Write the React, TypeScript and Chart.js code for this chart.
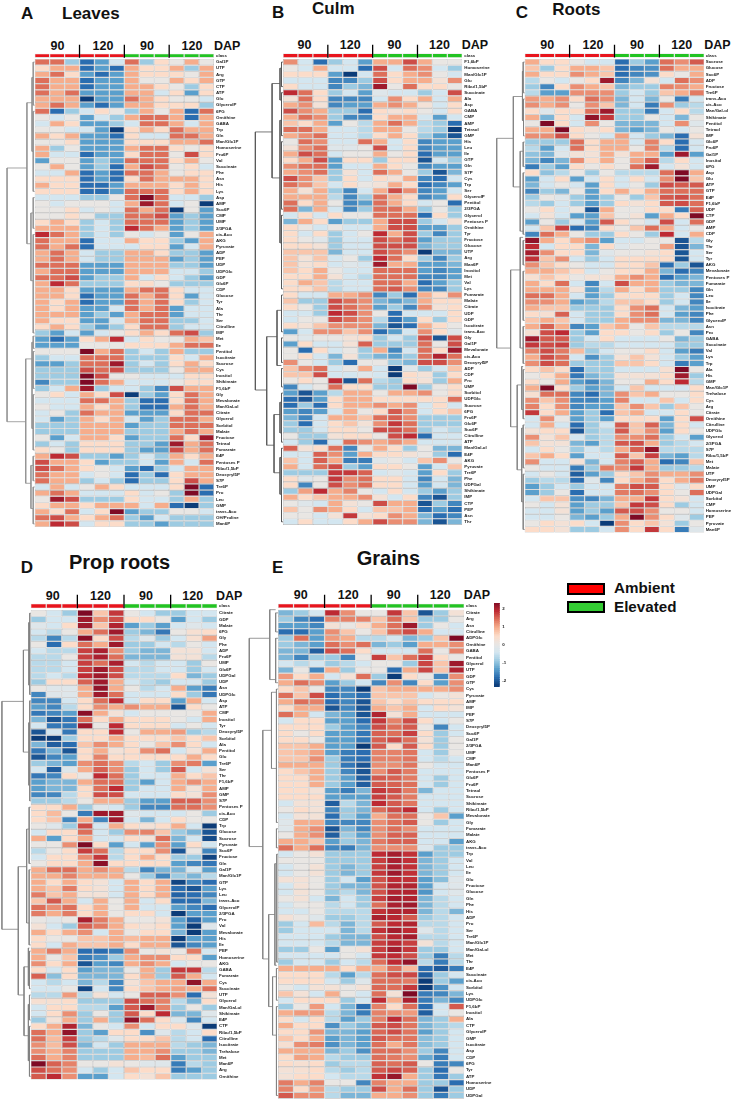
import React, { useEffect, useRef } from "react";
import { Chart, registerables } from "chart.js";

Chart.register(...registerables);

const FONT = '"Liberation Sans", Arial, sans-serif';
const LABEL_SIZE = 4.4;
const Z_STEP = 0.46;
const RAMP = ["#0c3c78", "#2a6db0", "#5a9fcc", "#9dcbe2", "#d3e6f0", "#e9e6e3", "#fcdcc9", "#f6ad8c", "#dd6f5a", "#bd2a33", "#7e0a25"];
const classColors = ["#e8141c", "#e8141c", "#e8141c", "#e8141c", "#e8141c", "#e8141c", "#22c322", "#22c322", "#22c322", "#22c322", "#22c322", "#22c322"];
const headerTicks = [3, 6, 9];
const colorbarTicks = [-2, -1, 0, 1, 2];

const labelsA = ["Gal1P", "UTP", "Arg", "GTP", "CTP", "ATP", "Glu", "GlycerolP", "6PG", "Ornithine", "GABA", "Trp", "Gln", "Man/Glc1P", "Homoserine", "Fru6P", "Val", "Succinate", "Phe", "Asn", "His", "Lys", "Asp", "AMP", "Suc6P", "CMP", "UMP", "2/3PGA", "cis-Aco", "AKG", "Pyruvate", "ADP", "PEP", "UDP", "UDPGlc", "GDP", "Glc6P", "CDP", "Glucose", "Tyr", "Ala", "Thr", "Ser", "Citrulline", "IMP", "Met", "Ile", "Pentitol", "Isocitrate", "Sucrose", "Cys", "Inositol", "Shikimate", "F1,6bP", "Gly", "Mevalonate", "Man/Gal-ol", "Citrate", "Glycerol", "Sorbitol", "Malate", "Fructose", "Tetraol", "Fumarate", "E4P", "Pentoses P", "Ribu/1,5bP", "DeoxyryI5P", "S7P", "Tre6P", "Pro", "Leu", "GMP", "trans-Aco", "OH/Proline", "Man6P"];
const valuesA = [
[3,3,-2,-4,-3,-1,3,-2,1,0,2,0],[1,2,2,-4,-3,-4,2,1,1,2,-2,2],[2,3,1,-3,-4,-3,2,1,1,1,0,2],[3,2,2,-4,-3,-3,2,0,0,2,1,2],[3,2,2,-4,-3,-3,2,2,1,0,-2,1],[3,2,3,-3,-3,-3,2,2,-1,1,-3,1],[2,2,2,-5,-3,-3,3,2,1,0,0,-1],[2,3,2,-3,-4,-3,2,2,1,1,1,-2],
[3,-4,-2,-1,1,0,-2,2,0,2,-4,3],[0,-1,0,-3,-1,-2,2,3,3,2,-4,2],[-1,2,1,-3,-3,-2,-1,3,3,2,-1,2],[0,0,-1,-1,-3,-5,1,2,1,3,2,2],[2,1,2,-3,-3,-4,1,-1,-1,3,3,2],[0,0,1,-3,-3,-3,1,1,1,2,2,3],[2,-2,0,-3,-3,-3,2,3,3,1,0,1],[2,-1,-1,-4,-3,-3,1,3,3,0,3.5,1],
[-3,0,0,-3,-2,-3,3,3,3,1,2,0],[0,2,0,-3,-2,-4,2,3.5,3,0,1,-1],[-1,-1,2,-4,-3,-4,3,3,2,0,1,1],[1,1,1,-4,-3,-4,1,3,2,2,2,1],[2,1,1,-4,-4,-3,2,2,2,1,2,1],[1,1,1,-4,-4,-3,3,3,3,1,2,1],[-1,-1,-1,-2,-2,0,3,5,3,-1,-1,-2],[0,-1,0,0,0,-1,2,4.5,3,-1,0,-5],
[0,0,1,-1,0,-1,3,2,3,-5,0,-3],[0,0,1,0,-2,-2,3,3,3.5,-3,-2,-3],[1,2,1,-2,-1,-2,3,3,3,-3,-2,-3],[2,2,2,-2,-1,-2,4,3,2,-3,-2,-3],[4,3,2,-2,-1,-2,0,-1,0,-3,0,2],[3,2,2,-4,-1,-1,2,1,1,-2,-3,2],[3,2,3,-4,-1,-1,-1,1,1,-3,-1,2],[2,3,2,-1,-2,-2,2,2,1,-2,-2,-3],
[2,3,2,-1,-2,-2,2,2,2,-3,-2,-3],[3,3,3,-3,-3,-3,2,2,2,-2,-2,-3],[2,3,3,-3,-3,-3,2,2,2,-1,-1,-2],[3,3,3.5,-3,-2,-2,2,-1,1,-1,-2,-3],[2,4,3,-2,-2,-2,1,1,0,-2,-2,-2],[2,2,1,-3,-3,-3,2,3,3,1,-1,-1],[2,2,1,-4,-3,-3,3,2,3,1,-3,-1],[2,1,2,-4,-3,-3,3,2,3,1,-2,-1],
[2,1,2,-3,-3,-1,3,2,3,-3,-1,-1],[2,2,2,-3,-2,-3,2,3,3,-3,-1,-1],[2,1,1,-3,-3,-1,2,3,3,-2,-2,-1],[1,2,1,-2,-3,-2,1,3,3,-2,-1,-1],[-2,-3,-1,-3,-1,0,1,2,1,3,3.5,-2],[-3,-4,-3,1,2,4,-1,1,0,0,2,1.5],[-3,-3,-3,0,0,0,1,1,1,2,3,3],[0,0,0,5,2,3,-2,-1,-2,2,-2,-2],
[-2,-1,-1,3,3,3,-2,-2,-2,1,-1,2],[-3,-3,-2,3,3,4.5,-2,-1,-2,1,2,1],[-2,-2,-2,3.5,3,3.5,-2,-2,-2,0,2,2],[-2,-2,-2,5,3.5,0,0,-1,-1,-1,1,1],[-3.5,-2,-2,5,3,2,-1,-1,-1,0,1,1],[-2,-1,2,4.5,-2,-1,-1,-2,-3.5,3.5,2,2],[0,1,-1,2,1,3.5,-5,-2,-3,1,3,2],[-1,-1,-1,3,3,2,-2,-4,-4,1,3,2],
[0,-1,-1,2,1,2,-2,-4,-4,2,3,2],[-1,0,-2,3,2,2,-3,-3,-3,1,3,3],[-1,-3,-2,2,1,2,-1,-3,-2,3,3,2],[-2,-2,-2,2,2,2,-3,-2,-2,3,3,3],[-2,-2,-2,2,2,2,-2,-2,-2,2,3,2],[0,-3,-1,2,2,1,-3,-2,-2,3,1,4.5],[-2,-1,-2,1,1,1,-2,-2,-3,4.5,2,3],[1,0,-2,1,1,1,-2,-3,-3,3.5,2,3],
[2,4,3.5,-2,-2,-3,-2,-1,-2,2,1,2],[3.5,2,2,1,-3,-2,-2,-1,-3,2,-1,3],[3.5,3,2,1,0,-1,-3,-4,-2,-1,2,2],[3,2,2,-1,0,-1,-4,-2,-4,1,2,2],[3,2,2,-2,-1,-2,-4,-2,-2,1,3.5,2],[-1,2,-1,0,2,1,-1,-1,-1,1,5,-4],[2,3,2,-1,-1,-1,1,-1,0,-2,5,-4],[0,4.5,3.5,-2,-2,-2,1,-1,-1,-2,2,-2],
[1,2,2,1,2,2,2,-1,2,-4,-5,-2],[2,1,3,-1,1,5,-3,-2,-2,0,0,-1],[3,3.5,2,1,2,3,-2,-3,-1,-2,-2,-2],[2,4,3.5,-1,1,1,-2,-2,-3,-2,-2,-2],
];

const labelsB = ["F1,6bP", "Homoserine", "Man/Glc1P", "Glu", "Ribu/1,5bP", "Succinate", "Ala", "Asp", "GABA", "CMP", "AMP", "Tetraol", "GMP", "His", "Leu", "Ile", "GTP", "Gln", "S7P", "Cys", "Trp", "Ser", "GlycerolP", "Pentitol", "2/3PGA", "Glycerol", "Pentoses P", "Ornithine", "Tyr", "Fructose", "Glucose", "UTP", "Arg", "Man6P", "Inositol", "Met", "Val", "Lys", "Fumarate", "Malate", "Citrate", "UDP", "GDP", "Isocitrate", "trans-Aco", "Gly", "Gal1P", "Mevalonate", "cis-Aco", "DeoxyryI5P", "ADP", "CDP", "Pro", "UMP", "Sorbitol", "UDPGlc", "Sucrose", "6PG", "Fru6P", "Glc6P", "Suc6P", "Citrulline", "ATP", "Man/Gal-ol", "E4P", "AKG", "Pyruvate", "Tre6P", "Phe", "UDPGal", "Shikimate", "IMP", "CTP", "PEP", "Asn", "Thr"];
const valuesB = [
[2.5,-1,-4,-2,-1,-3,2,2,3.5,2,0,0],[0,-1,2,-1,-1,-4,3.5,-1,3,2.5,-1,-2],[1,1,1,-3,-5,-1,3,1,2,2.5,0,-1],[-1,-1,-1,-3.5,-3.5,-2,3.5,1,2,2,0.5,2.5],[1,-1,-1,-3.5,-2,-2.5,4.5,0,3,1,1,0],[4,3,1,-2,-1,-3,-0.5,-1,-1,-2,-1,3.5],[0.5,3,1,-3.5,-3.5,-3.5,-1,2.5,1,2,-1,2],[2,2.5,0.5,-3.5,-3,-3,2,2.5,2,0.5,-1,1],
[3.5,2.5,2,-2,-2,-4,1,0.5,1,0,-1,1],[2,3,2.5,-2,-3.5,-3.5,1,2,2,-1,-3,-1],[1.5,1,2,-3,0,-1.5,2,3,2,-1.5,-2,-4],[3,3,2,-1,-1,-1.5,2,2,0,-1.5,-2,-5],[2,2.5,3,-1,-1,-1.5,1,2,1,-2,-3,-4.5],[0,3,2.5,-1,-1,3,2,-1,1,-3.5,-3,-3],[0.5,2.5,3,-0.5,-0.5,0,3.5,-1,1,-3.5,-3,-3],[2,3.5,3,-1,0,0,2,0,1,-4,-3,-3],
[1,2,3.5,-3,1,1,-2,1,1,-4.5,-1,-2],[2.5,3,3,-3,-1,-1,2,1,0,-3.5,-3,-3],[2,2.5,3,-2,0.5,-1,3,2,0,-2,-4.5,-2.5],[3.5,2.5,1.5,-2,1,-1,1,0.5,2,-3.5,-4,-1],[3,2.5,1.5,-1,1,0,0.5,2,1,-4,-3.5,-3],[2,0.5,2,-2,-3.5,-1,2,3.5,2.5,-3.5,-3,-1],[2,2,2,-1.5,-3.5,-2,3,2,1,-3.5,-3,1],[3,1,2,0,-3.5,-3,3,2,1,-1,0,-4],
[3,-2.5,2,-1,-3.5,-2,3,3,2,-2,0,-2],[-1,1,-1,1,0,0,3,3,3,-4,1,-2],[-2.5,2,1,-3,-2,-2,2,3.5,3.5,-2,-1,0.5],[1,0,-1,0,-1,-1,2,3.5,3.5,-3,-3,-2],[1,-1,1,-2,-1,0,4,2,3.5,-2,-3.5,-2],[1,0,-0.5,-2,-1,-1,3.5,3,3.5,-3,-2,-2],[1,1,0.5,-2,-1,-1,3.5,3.5,3.5,-2.5,-2,-2],[1.5,1.5,1.5,-2.5,-1,-1,3.5,3,2.5,-5,-2.5,-2.5],
[1.5,0.5,1.5,-1,0,-2,4,3,1,-2,-3.5,-2],[1.5,0.5,1,-1,-0.5,-1,4.5,2,2,-3,-3,-2.5],[1.5,1,2,0,-1,-1,3,3,3,-3,-3.5,-3],[1,1,2,0.5,-1,-1.5,3,3,3,-3.5,-3.5,-3],[1,2,1.5,-1.5,-1,-1,3,3,2,-4,-3,-2],[1,1,1.5,-1.5,-1,-1,3,3.3,2.5,-3.5,-3.5,-2],[1,-1,-1,2,2,2.5,-3.5,-2,-4,2,1,2.5],[1.5,-2,-2,3.5,3,2.5,-2.5,-3,-2.5,2,1,1],
[1,0,-2,3.5,3,2.5,-3,-2,-3.5,2.5,0.5,1],[-1,-1,-2,4,3.5,2.5,0,-4,-1,-1,-1,1],[-1,0,0,3.5,3,2.5,-1.5,-4,-3,1,-2,1],[1,0.5,1.5,2.5,2.5,2.5,-2.5,-4.5,-4,2,1,0],[-3,-1,2.5,2.5,1.5,2.5,-4,-3,-1,2.5,1,-0.5],[0,-0.5,0,0,0.5,1,-2,-1,-2,3.5,-4.5,3.5],[-3,1,-1,-1,0.5,3.2,-2,-2,-2,3,0,3.5],[0,-4,1,-1,0,-2,2,-3.5,-1,3,1,4.5],
[0,1,-1,-2.5,0.5,-2,-2.5,-3,-2,3,4.2,3],[2.5,0,-1,-2,-4,0,0,-2,-2.5,3.5,3.5,2.5],[1.5,2.5,3,-1,0,2,-1,-5,-0.5,-2,-1,1.5],[1.5,1.5,3.5,-1,-1,-0.5,-1,-5.5,1,0.5,-2,1],[0,1,0,4,-4.5,3,-1.5,-2,1,0.5,-2,2],[-3.5,-1,0,3,1,1,-2,-2,5,-2,0,1],[-3,-4.5,-3,-1.5,2,2,0,2,2,2.5,0,1],[-4,-4.5,-3,1,2,2,1,1,1,1,1,3],
[-4,-2,-4,1,2,2,2.5,2,2.5,-1,1,-1],[-3,-3.5,-3,-1,2,0,1,3.3,2.5,-1,1,1.5],[-2.5,-3.5,-1,2,2,1.5,3,3.2,2.5,-2,-2,-2],[-2,-4,-1,1,1.5,0.5,2.5,3.8,3,-2,-2,-2],[-2,-2,-1,1,1,0,3.5,3.5,3,-2,-1,-1.5],[0,-2,-2,0.5,1,1,0,3.5,4,-4,-1,-1],[-1,-2,-4,-1,3,2.5,2,2.5,2,-1,-1,-1],[3.2,0.5,1,3,-3.5,0,2,1,-2,0,-2.5,-2.5],
[-1,-1,3.2,2.5,-3,2,1,1,0.5,0,-2,-4],[1.5,-1,3.2,2,-3.7,-3.7,-0.5,0,-1,1.5,2.5,0],[2,-1,3,3.5,-2,-3,1,1,0,-3,-1,1.5],[-2,-2,-2,3.8,3.8,3.2,-1,-0.5,-1,-3,1,-2],[1,-0.5,0,3.8,2.5,3,1,1,-1,-3.5,-1,-2.5],[1,-3.5,0,3.5,2.5,3,1,1,-1,-3,-1,-2.5],[-2,2.2,4,2,2.7,0,-1,1,-1,-2,-3,-2],[2,1,1.5,2,2,2.5,0.5,-1,1,-3.5,-4.5,-2],
[0,-0.5,-1,2,0.5,0,3.5,2,2,-4.5,-2,-3.5],[1.5,0,2.5,2,1,-1,1.5,1.5,2,-4,-3,-4],[0,0,-1,0.5,3.8,0.5,1,2.5,2,-2.5,-4,-3.5],[-1,1,-1,-1,1,2,3.5,2.5,2.5,-2.5,-4.5,-2.5],
];

const labelsC = ["Sucrose", "Glucose", "Suc6P", "ADP", "Fructose", "Tre6P", "trans-Aco", "cis-Aco", "Man/Gal-ol", "Shikimate", "Pentitol", "Tetraol", "IMP", "Glc6P", "Fru6P", "Gal1P", "Inositol", "6PG", "Asp", "Glu", "ATP", "GTP", "E4P", "F1,6bP", "UDP", "CTP", "GDP", "AMP", "CDP", "Gly", "Thr", "Ser", "Tyr", "AKG", "Mevalonate", "Pentoses P", "Fumarate", "Gln", "Leu", "Ile", "Isocitrate", "Phe", "GlycerolP", "Asn", "Pro", "GABA", "Succinate", "Val", "Lys", "Trp", "Ala", "His", "GMP", "Man/Glc1P", "Trehalose", "Cys", "Arg", "Citrate", "Ornithine", "Citrulline", "UDPGlc", "Glycerol", "2/3PGA", "S7P", "Ribu/1,5bP", "Met", "Malate", "UTP", "DeoxyryI5P", "UMP", "UDPGal", "Sorbitol", "CMP", "Homoserine", "PEP", "Pyruvate", "Man6P"];
const valuesC = [
[2,1,1,0,-1,-1,-4,-2,-3,3,2.5,3.3],[1.5,-2,1,2,2,1.5,-4,-3.5,-3.3,3,2,2],[2,1,1,2.5,2,1.5,-4,-3.5,-3.3,1,0,2],[-1.5,0,-1,0,1,4.5,-3.5,-2.5,0.5,-1,3,2.5],[-2,-3.5,1,2.5,2,1.5,-2.5,-2,-2,2.7,2.5,2],[-1.5,-3,-3,2.5,2.5,2.5,-2,-1,-2,1.5,2,2.8],[2.3,2,2.5,1,3,2.5,-2.5,-1,-2.5,0,-3.7,-1],[2.5,2,2.5,0,2.5,1.5,-2.5,-1,-3.7,2.5,-2,-1.5],
[1,-0.5,1,1,3,4.5,-2,-2,-3.7,-1,1,-1.5],[2,-2.5,1,-1,4.7,3.8,-2,-2,0,-1,-2.5,0],[0,5,1,-1,2.5,0,-2.5,-2.5,-2.5,-1,2.5,-0.5],[2,2,5,1,0.5,1,-2.5,-3,-2.5,0,-1,0],[2.5,2.5,3.5,1,0,-1,2.2,-1,-2,-2.5,-4,0.5],[-2,-2,-2,3,1,2,2,-1,2.7,1,-4,-1],[-1.5,-3,-1,3,1,2,2,0,2.7,-1.5,-4,-1],[-2.2,-2.5,-0.5,0.5,0.5,2,0.5,2,2,-3,4.5,-3],
[-2.5,-3.5,-2.5,2.5,1,2,0,2.2,3.2,-1.5,1,-1],[-3.7,-2,-3,1,0,1,0,3,4.5,-1,0.5,-1],[1,-2.2,-1.5,0,-2,0,-1.5,-1.5,-1.5,3,5,2],[-3,-1,1,-3,-1,1,-1,1,-1,2.5,5,1.5],[-2.5,-1,0,-1,-3,1,-1,0,-2,3.5,3.3,3.3],[-3.5,-2,-2.5,0,-3,1,2,1,2,3,3,3],[-2,0,-0.5,-2,-3,-2,0,-2,1.5,3.3,3.5,3],[-1.5,-2,-1,-2,-3,-2,1,0.5,1,3.3,3.5,3],
[0,1,-1,0,-4.5,2,0,0,1,1,-3.7,3.2],[-1,0.5,-1,-3,-3,1.5,0,0.5,-3,2,1,5],[-3,0,-2,-1,-3,3.3,1,0,-1,3.5,-1,3],[-1,1.5,3.7,-4,-3.5,1,0,1.5,3,2,-1,0],[-3.5,3,2,0,-2,-2,1,0,-2,4,-1,2],[4.7,2,1,2,2.5,-3,-1,-1,0,0,-4.5,-1.5],[4,-1,1,1,-2.5,1,-0.5,0,0,2.2,-4.5,-2.5],[4.4,2.5,1,1,-2.5,-0.5,0,0,0.5,1,-4.5,-1],
[3.9,1.5,2.5,-1,-2,-1,1,1,1,1,-4.5,-1],[2.5,1.5,1,0,-1,-1,1,1,1.5,-4,-2,-4.5],[2,2,1.5,1,-1,0,1,1,2,-2.5,-4,-3.5],[0.7,1.5,1,0,0.5,0.5,2,2.5,2,-4,-3,-2.5],[2,1,3,-1,-3.5,-1,3.5,2,2,-2,-2.5,-2.5],[2,2,2,0.5,-3,-1.5,2,1,2,-2,-2,-3.5],[3,3,2,-1,-3,-2,1,1,1,-2,-1,-3.5],[2.5,2.5,2,-3,-2.5,-1.5,1.5,1.5,1,-2,-1,-3.5],
[2,1.5,1.5,-2,-2,-2,1,2.5,3,-1,-2.5,-3],[1,0.7,3.2,-1,-2,-2,1,2.5,3,-1,-3,-3.5],[1.5,2,1.5,-1,-2,-2,2,2.5,2.5,-2.5,-2.5,-3.5],[2,3.2,2,-3.5,-3,1.5,2,0,1.5,-1.5,-1.5,-1.5],[0.7,3.5,4,-2,-3,1,1,0,1,-2,0,-3.5],[4.5,3.3,3.3,-2,-1,1,-1,-1,-1,0,-2.5,-2],[3.8,3.5,3.7,-2,-1.5,-1.5,-1,-1,-1,-1,-2,-2],[2.7,3.5,2.8,1.7,-2,-1,0,0,1,-1,-3,-3.7],
[2,3.5,3,-1,-3.3,-2,0.5,1.5,0.5,-1,-2,-3],[2.5,3.5,3,-2,-2,-2,1.5,1.5,1,-1,-3.7,-3],[1,1.5,1,-4,-2,-2,-1,-1,-1,0.7,5,0],[0,1,2,-3.8,-2.5,-2,0.5,0.5,0.5,1,4.5,-2],[1,0,2,-3,-3.5,-2.5,0,0,2,1,4,-1.5],[2,5,1,-2,-3,-2.5,-1,1.5,-1,-1,-1,1],[0.7,3,3,-3.5,-4,-2.5,2.5,1.5,2,0,0,1],[2.5,1.5,2.5,-3.5,-3.5,-3,2.7,-1,-1,1.5,-1,1],
[2.7,1,2.5,-3.5,-3,-3,1.5,2.5,1.5,-2,1.5,0],[3.8,1,2,-3,-2,-4,1.5,2,-1,-1,1,0],[-1,2.5,0,-3,-2,-3,1,1,1,-3,1,3.5],[-1,2,-1,-4,-2,-1,3.3,1.5,3.2,-2.5,1,-1],[0.5,1,1,-4.5,-2,-1.5,3.3,1.5,2.5,-3,1,0],[2.5,0.5,1.5,-1,-2,-1.5,2.5,2.5,3,-2,-1,-3],[1.5,0.5,0.5,-2.5,-3,-1.5,3.3,3.5,2,-2,-1.5,-1],[-1,1,0,-2,-1,-1.5,2,3.2,4.7,-1.5,-1.5,-1.5],
[1.5,2,1,-3,-1,-1,3.3,1.5,3.7,-2.5,-3,-1.5],[2.5,-1,-1,0.5,-2.5,-1,2.7,3.2,2,-4,-3.5,1.5],[0,-1,-1,-3.7,-2,2.8,2.5,3.8,2,-2,-2,-1.5],[-1,0,-1,-4.3,-3,-2,1,1.5,2.5,2,2,2.5],[-2,-1.5,-1.5,-4,-0.5,-3.5,1,2,2.8,1,2,2.8],[-3,-2,-1,-2,-1,-1,2.8,3.5,3.3,1,-0.5,1],[-3,-2,0,-4,-1,-1,2.8,3,2.5,1,0,3],[-1,1.5,1.5,-3.3,-3.5,-2.5,2,2,3.8,1,0.5,-1],
[0,-1,0.5,-3,-2,-2,1.5,3.8,3.5,1,-2,-1],[-1,-1,0.5,-3,-2,-3,3.3,3.5,2.5,0,0,-1],[-1,-1,0,-2.5,-3,-2,2,5,2.5,1,-0.5,-2],[0,1,0.5,1,-1,-5.5,2.5,1,1.5,0.5,-2,0],[1,1,0.5,-2,-2,-1,2.5,1,3.8,1,-3.7,-0.5],
];

const labelsD = ["Citrate", "GDP", "Malate", "6PG", "Gly", "Phe", "ADP", "Fru6P", "UMP", "Glc6P", "UDPGal", "UDP", "Asn", "UDPGlc", "Asp", "ATP", "CMP", "Inositol", "Tyr", "DeoxyryI5P", "Sorbitol", "Ala", "Pentitol", "Glu", "Tre6P", "Ser", "Thr", "F1,6bP", "AMP", "GMP", "S7P", "Pentoses P", "cis-Aco", "CDP", "Trp", "Glucose", "Sucrose", "Pyruvate", "Suc6P", "Fructose", "Gln", "Gal1P", "Man/Glc1P", "GTP", "Lys", "Leu", "trans-Aco", "GlycerolP", "2/3PGA", "Pro", "Val", "Mevalonate", "His", "Ile", "PEP", "Homoserine", "AKG", "GABA", "Fumarate", "Cys", "Succinate", "UTP", "Glycerol", "Man/Gal-ol", "Shikimate", "E4P", "CTP", "Ribu/1,5bP", "Citrulline", "Isocitrate", "Trehalose", "Met", "Man6P", "Arg", "Ornithine"];
const valuesD = [
[0,-1,-2,5.5,1.5,3.8,0,-1,-2,-2,-1,-1],[-2,-1,-1,4.5,2.5,3.5,1,1,0,-3,-1,-2],[-0.5,-1,1,4.5,1.5,4.2,-3,-2,-3,-1,-0.5,-1],[-1,-1.5,0,2,3,4.5,-2,-2.5,-3.8,0,0.7,1],[-1.5,-3.5,-1.5,4.8,1,3.5,-1.5,-0.5,-2,-1,0.7,2.2],[0,-4,1,3,2,4.5,-2,-2,-1,-1.5,0,-1],[-1,-1.5,-1.5,3.7,4.3,2.5,-2,-2.5,-2.5,0.5,0.5,-1],[-1.5,-1.5,0,3.7,4.3,3,-2.5,-2.5,-2.5,0.5,0.5,-1.5],
[-1.5,-1.5,-1,3.7,3,4.3,-1,-1.5,-1,-1,-2,0],[-1.5,-1.5,-1,3.7,4.5,3.5,-1.5,-1.5,-1,-1,-2,-1],[-1.5,-1,-1.5,4,4.5,3.5,-1.5,-1.5,-1.5,1,-2.5,-2],[-2,1,1,3.2,4.5,2,-1,-1.5,-2,-1,-1,-2],[0,-0.5,-0.5,2,4.7,2,0,-1.5,-1,2,-3,-3.7],[-3.5,-0.5,-0.5,2,4.5,3,-1,-1,-1,1,-2,-3.8],[-3.5,-3.5,-1,1,3,4,-1,1,1,-3,2,-1],[-3,-3.5,-1.5,1,2.5,2,2.5,2,2,-4.5,1,0],
[-3.8,-3.5,-3,4.8,2,0.5,-1,0,0,0,0,2],[-2.5,-4.5,-3.8,3,1,2,1,1,1,0,-1,2],[-1,-3.8,-3.8,4.5,0,4,1,1,1,-1,0,-1],[-4.5,-1,-3.8,1,1,4,0,2,2,2.3,-2,-1.5],[-5,-5,-2,1,1,2,1,1,1,1.5,1,1.5],[-2.5,-4.3,-4,1.5,2.5,2,1,0,1.5,2.5,1,-1],[-3.8,-2.5,-4.5,1,2,0.5,1,2.5,3,-1,0.5,2],[-4.5,-3.5,-3,1,2.7,1,1,1,1,1,2,1],
[-2,-2.5,-3,2.5,3,2.5,-1.5,-1,-2,2.5,2.8,-3],[-1,-4.3,-0.5,2,3.2,2.5,-2,-1,-2,3.3,-1,0.5],[-3.8,-3.5,1,0,4,3,-2,-1,-1,2,1,1.5],[-3,-2.5,-2.5,2,3,3,-2,-3,-1,2,2.5,2],[-3,-2.5,-2.5,1,3,4,-2,-1,-1,2,0.5,2],[-3.5,-3.5,-1.5,1,3.5,3.5,-1,-1,-1,1,0.5,2.5],[-2,-2,-1.5,0,2,2,-2,-3,-3,3.2,3.2,2.5],[1,1,2,-2,-0.5,-1,-2,-3.5,-3.5,3,3,2.5],
[1,1.7,0,-3.7,4.5,4.5,-0.5,-1,-1,-1,0,-2],[1,1.5,-3.5,2,-3.5,4.5,-1,-2.5,-1,1,0,0],[0,-0.5,-2,3.5,-1,2,1,0.5,1,2,-1,-5.5],[-1,1,1,3,-1,-2,2.5,2.7,1.5,-2,-2.5,-4.5],[2,-3,1,2,-1,-1,1,0.5,3,-2.5,-1,-4.7],[0,0,2.5,5,1,-3,-1,-3,2.5,-3,1,-1],[-1.5,0,1,3.7,3,-1.5,1,1,2.5,-4.5,0,-3.5],[-1,1,1,2.5,3.8,-1.5,1,2,1,-2,-2,-4.8],
[0,1,1,2,4.8,1,1,1,1,-3,-3.5,-3.8],[2,3,3,2,2.5,2,-1.5,-3.5,-2.5,-2.5,-1,-3],[2,2,2.7,2,2,2,0,-2,-3.5,-2,-2.5,-1.5],[2,1,2,1,0.5,-1,2,1,2,-4.8,-3.5,-4],[2,1.5,2.8,1,0.5,-1,2,1,2,-4,-4.5,-3],[2.8,1.5,2,0.5,0.5,-1,2,1,2,-4.2,-4,-3.5],[1.5,3.3,2,-1,2,0,2,-1,1,-4,-4,-2.5],[3,2.5,3,1,2,0,2,-1,-1,-3,-3.5,-4],
[2.8,2,2.8,1,2,0,1,1,-1,-5,-3,-3],[0,-0.5,0,4.3,2.8,2,0,0,0.5,-3,-4.2,-3],[0.5,-1,-2,3.2,2.8,2,1,0.5,1,-3,-5,-0.5],[2,1,2,2.5,-1,2,0,1,1,-2.5,-5,-3],[1,0,0,1.5,1.5,2,1.7,2,2,-5.5,-3,-3],[1,-1,2,1.5,1.5,2,1,2,2,-4.5,-3.5,-3],[2,2.8,2,-4,-4,-3.7,2.5,0,0.5,0,2.8,-1],[2,0,1.5,-3.7,-3.3,-2,2,2.5,2.5,1,1,-3],
[2.5,1,2,-4.5,-3,-3.5,2,2.5,2,-1,0,0],[1,-1,1,-3,-2.5,-2.5,0,2,-2,3.8,3.8,-1.5],[3.2,-2.3,1,-2.5,-2.5,-2.5,1,2,-2,3.3,2,-1],[-1,-1.5,-1,-2.5,-1.5,-3.5,0.5,1.5,2,2,4.7,2],[-1,-1,0,-4.8,-1,-3.5,1,1.5,2,2.2,2,3],[-1.5,-1.5,2.3,-1.5,0.5,-1,0,3.2,3.2,2.5,-4,0.5],[0.7,0.7,1,-2,-2,-2,3.5,3,2.7,-1.5,-2.5,1],[-1,1,1,-1.5,-1.5,-3,3.3,4.5,2.7,-2,0,-2],
[-1,1,2.5,-2,0,-2,3.3,1,4,-2.5,-2.5,-0.5],[-2,0.5,2,-2,2,-2,4.7,3,1,-0.7,-3.5,-1],[1,2,4.2,-2.5,0,-1,2.5,-1,1,1,-0.5,-5],[3,2,4.7,-2,-3,1,1,-3.3,-0.5,-1.5,-1,1],[3,1.7,3.7,-2,-1.5,-0.5,1,1,1.5,-1.5,-1,-4],[2.5,1.7,3.5,-2.5,-1,-2,2,2,2,-1.5,-2,-2.5],[2.5,2,2.7,-2,-2,-2,2,2,2.5,-2,-2,-2.5],[3,2,2.7,-2,-2,-2,2,1.7,3,-3,-2,-2],
[5,3.2,2.7,0,0,0.5,0,-0.5,-0.5,-3.7,-1.5,-2],[3.5,3,2.5,-1,-2,-1,1.5,1,1,-3.7,-3,-2],[3.3,4,2.5,-3,-3,-1,1,0.5,1.5,-2,-2,-2],
];

const labelsE = ["Citrate", "Arg", "Asn", "Citrulline", "ADPGlc", "Ornithine", "GABA", "Pentitol", "Glycerol", "UTP", "GDP", "GTP", "Cys", "Pyruvate", "AMP", "IMP", "PEP", "S7P", "DeoxyryI5P", "Suc6P", "Gal1P", "2/3PGA", "UMP", "CMP", "Man6P", "Pentoses P", "Glc6P", "Fru6P", "Tetraol", "Sucrose", "Shikimate", "Ribu/1,5bP", "Mevalonate", "Gly", "Fumarate", "Malate", "AKG", "trans-Aco", "Trp", "Val", "Leu", "Ile", "Glu", "Fructose", "Glucose", "Gln", "Phe", "His", "ADP", "Pro", "Ser", "Tre6P", "Man/Glc1P", "Man/Gal-ol", "Met", "Thr", "E4P", "Succinate", "cis-Aco", "Sorbitol", "Lys", "UDPGlc", "F1,6bP", "Inositol", "Ala", "CTP", "GlycerolP", "GMP", "Isocitrate", "Asp", "CDP", "6PG", "Tyr", "ATP", "Homoserine", "UDP", "UDPGal"];
const valuesE = [
[-2.5,-2,-1,4,2.5,0,0,3.8,1.5,-4.5,-2,0.5],[-2,-3.5,-4,2.7,2.7,2.7,1.5,3,1.5,-2,-2,0],[-3,-3,-3.5,0.5,0,1,2,3,4.5,-2,0,-1],[-4,-4,-3,2.5,1.5,0,1.5,3,3.5,2,-1,-1],[-2,3,-3,2.3,2,-1.5,-1.5,-1,-2.5,-2,1.5,5.3],[-2,-2.5,-3,3,2.5,3,-2.5,-2,-3,2,2,2.5],[-2.5,-2.5,-4.3,3.5,3,1,-1,-1,-1,3,0,2.7],[-2.5,-3.5,-2,-2,-3.5,0,3.7,1.5,3,3.7,1,0],
[-1,-1.5,-1,-2,-1.5,-1,0,0,-2,3.6,1.5,4.5],[-2.5,0,-3.5,2,-2,0,0,-4,2,3.6,1.5,4.2],[2.3,1,2,-1,0.5,3,-2,-5.5,1,0,-3.5,2.5],[2,3,2.5,-3,-2,-1,-3.5,2.5,-3.5,1,-3,2.5],[1,1.5,0,-3.5,-3.5,-5,1.5,2,2,2,2,2.5],[3,1.5,3.5,-4,-3.5,-4,1.5,1.5,1.5,-1,0,0.5],[2,3,2.7,-4,-3.5,-4.5,1.5,1,1.5,1,1,1],[1,2,2,-4.5,-3.5,-4.5,2,1.5,2,-1,1,0.5],
[3,2,-1,-2.5,-3,-4.5,4.2,0.5,2,-1,-1,-1],[-1,1,1,-3,-3,-4,3.8,2.7,3.5,1,-1,0],[1,1,1,-2,-3,-3.5,3.5,3,3.3,0,-3.5,-1],[1,0,1,-3,-3,-3.8,3.2,3,3.7,1,-2,-1],[1,1,0,-3,-3,-3.8,3.2,3.5,3,0.5,-2,0],[1.5,1.5,2,-3,-3,-5,3.3,1,3.3,1,-2,0],[1.5,1.7,2.2,-3,-3.7,-4,2.7,2.7,2.9,-1,-2,0],[1.5,1.5,2.5,-2,-3.7,-4,2.7,2.7,2.9,-1,-1.5,-1],
[2,2,2,-2,-3.8,-4.5,2.5,2.5,2.9,0,-1,-1],[1,1.5,2,-2,-3.5,-4.5,2.5,3.3,2.8,-1,-1,-1],[1,1,2,-2,-3,-4.3,3.3,3.2,2.8,-1,-2,-1],[1,1,2,-2,-3,-4.3,3.3,3.2,3,-1,-2,-1],[1,1,0.5,-3,-3.7,-2.5,3.8,3.5,2.8,-2.5,-1,-1],[1,1,1,-3,-3,-3,3.7,3.3,2.8,-1,-1,-1],[-1,0.5,0.5,-4.3,-1.5,-2.5,4,3.3,2.9,-1,-1,-1],[0,1,0.5,-3.5,-2,-2.5,3,3.5,4,-1,-2,-1],
[-1,0.5,0.5,-4,-2,-3,2,3,3,0,1.5,-3],[-0.5,2,2,-3.5,-3.5,-3.5,2.5,3,3.3,0,-2,-1],[-0.5,2,2.5,-4.5,-2.5,-3.5,2.5,3,2.5,-1,-1,-1],[0,2,2.5,-4.3,-2,-3,2.5,3.2,3.2,-1,-1,-1],[2,2,1.5,-3,-2,-2.5,2.8,3.2,3.2,-1,-1,-3],[3,2,3,-3.5,-3.7,-2.5,2.5,2.5,2.5,-0.7,-2,-2],[-1,0,0.5,-2,-2,-2,4,4.4,3.9,-3,-2,-2],[0,0,0,-2,-2,-2,3.7,4.3,3.9,-2.5,-2,-1],
[-1,0,0.5,-2,-2.5,-2,3.7,4.3,3.9,-2.5,-2,-1],[-1,0,0.5,-2,-2.5,-2,3.8,4.5,3.9,-2.5,-2,-1],[0.5,0.5,0,-2,-1,-3,3.4,4,3.9,-3,-2.3,-0.5],[-1,0.5,0,-2,-2.5,-2.5,3.4,4.2,4.2,-3,-1,-0.5],[-1,0.5,0,-2,-1.5,-2.5,3.4,4.2,4.2,-3.2,-1,-0.5],[0,0.5,-1,-2.5,-1,-2,3.7,4.4,4.2,-2.5,-1.5,-1],[-1,0,0,-1.5,-1,-2,3,4.3,4.5,-2.5,-1.5,-1],[-1,-1,0,-1.5,-1.5,-1.5,3.9,4.2,4.2,-2.5,-1.5,-2.5],
[0.5,0,-0.5,-2,-2,-1.5,4.3,4.1,3.3,-2,-1.5,-1],[-2,-1,1.7,-1.5,-2.5,-1.5,3.3,4,4.2,-1.5,-1.5,-1],[-2,-1,-1,-1,-2.5,-1.5,3.9,4.4,4,-0.5,-1.5,-1],[-1,-1,-1,-2,-2.5,-2.5,3.5,4.1,4.4,-1.5,-1.5,-1],[-1,-1,-1,-1.5,-2.5,-2.5,3.7,4.1,3.7,0.5,-1.5,-1],[-2,-2,0,-3,0,0.5,3.7,4.4,3.8,-2,-2,-1],[-1,-1,-1,-1,0,-1,3.8,4,3.5,-2,-3.7,-1.5],[-2,-1,-1,-2,-1,-1.5,3,4,4.7,-1.5,-3.7,-1.5],
[2,2,2,2,1,2,2,3,1.7,-4,-4.4,-3.7],[1,1,1,-1.5,-3,-1.5,3,3.5,3.6,-4.3,-2,-1],[1,1,1,-1,-2,-0.5,3,3,2.8,-5,-2,-3],[0,-1,0.5,0.5,0,0.5,3.1,3,3.8,-5,-3.3,-1],[1.5,0.5,-1,2,0,-1,3,0.5,5,-3.7,-3.5,-2.5],[-1,1,1,1,-2,-1,4,2,4.3,-3.7,-2.5,-3.5],[-2,0,2.3,-1,-2.5,-4,2.7,1,3,-4,-1,3.3],[2,2.3,2.3,-1.5,-2.5,-3.7,2.7,2.5,2.3,-4.3,-1,0],
[1,-1,1,-1.5,-3,-2,2.7,4,3,-2.5,-2,2],[2,1,1,-3.3,-2,-2.5,3.3,3.5,2.9,-2.5,-2,-1.5],[1,1,2.4,-2.5,-2.5,-3,3.1,3.5,2.9,-3,-2,-1],[1.5,1,2,-3,-2.5,-3,3.3,3,2.9,-2.3,-2,-1],[0.7,2.5,2.8,-3.3,-2.5,-3,3,2,2.9,-2.3,-2,-1],[2,2,2,-2.5,-2,-3.3,3,3,2.5,-2,-3.5,-1],[1,2.2,2,-1.5,-2,-2,3,2.8,2.5,-2.8,-3.7,-1],[1,0.7,1,-2,-1.5,-1.5,3.2,3,3.3,0,-3.7,-3.5],
[0.5,0.7,1,-1.5,-2,-1.5,3.3,3.6,3.2,-2,-4,0],[0.5,1,1,-1,-1.5,-1.5,3.9,4.6,2,-2,-3.8,-2],[2.8,2,2.7,0,0,-3.5,2.7,2,2,-2,-2,-4],[2.7,1,2.3,-1.5,-2,-2,3.5,2,3,-2,-4.5,-2],[3.3,2.5,2.5,-1.5,-2.5,-2.5,2,2,2.5,-2,-3.7,-2],
];

// Dendrogram brackets: [height of the join, top row, bottom row, height of top child, height of bottom child]
const dendroA = [[1.85,17.7,58.9,0.52,0.6],[0.52,7.1,30,0.18,0.25],[0.6,48.7,68.9,0.18,0.25],[0.18,3,15,0.1,0.1],[0.25,25,36,0.1,0.1],[0.18,46,60,0.1,0.1],[0.25,66,73,0.1,0.1],[0.1,0.5,7.5,0,0],[0.1,8.5,21.5,0,0],[0.1,22.5,27.5,0,0],[0.1,28.5,44.5,0,0],[0.1,45,47,0,0],[0.1,47.5,53.5,0,0],[0.1,54.5,63.5,0,0],[0.1,64.5,68.5,0,0],[0.1,69.5,75.5,0,0]];
const dendroB = [[1.85,11.9,54,0.73,1.09],[0.73,4,19.4,0.2,0.2],[1.09,45.3,63,0.4,0.6],[0.2,1.5,6.7,0.1,0.1],[0.2,10,30,0.1,0.1],[0.4,41,50,0.1,0.1],[0.6,58,67.5,0.2,0.2],[0.2,56,61,0.1,0.1],[0.2,65,71,0.1,0.1],[0.1,0.5,4.5,0,0],[0.1,5.5,12.5,0,0],[0.1,13.5,24.5,0,0],[0.1,25.5,37.5,0,0],[0.1,38.5,44.5,0,0],[0.1,45.5,49.5,0,0],[0.1,50.5,53.5,0,0],[0.1,54.5,62.5,0,0],[0.1,63.5,75.5,0,0]];
const dendroC = [[1.87,12.9,47,0.76,0.94],[0.76,6.1,20.8,0.15,0.3],[0.94,34.3,59.8,0.3,0.5],[0.15,2,10,0.08,0.08],[0.3,15,28,0.1,0.1],[0.3,29,47,0.1,0.1],[0.5,53,66.8,0.2,0.2],[0.2,50,57,0.1,0.1],[0.2,60,72,0.1,0.1],[0.1,0.5,5.5,0,0],[0.08,6.5,12.5,0,0],[0.1,13.5,17.5,0,0],[0.1,18.5,28.5,0,0],[0.1,29.5,33.5,0,0],[0.1,34.5,42.5,0,0],[0.1,43.5,49.5,0,0],[0.1,50.5,58.5,0,0],[0.1,59.5,66.5,0,0],[0.1,67.5,76.5,0,0]];
const dendroD = [[1.85,14.6,51,0.47,0.8],[0.47,6.4,22.7,0.12,0.12],[0.8,41,61.5,0.26,0.43],[0.12,2,12,0.06,0.06],[0.12,18,28,0.06,0.06],[0.26,35,50,0.1,0.1],[0.43,57,68,0.15,0.15],[0.15,54,60,0.08,0.08],[0.15,63,72,0.08,0.08],[0.06,0.5,13.5,0,0],[0.06,14.5,30.5,0,0],[0.1,31.5,40.5,0,0],[0.1,41.5,53.5,0,0],[0.08,54.5,60.5,0,0],[0.08,61.5,65.5,0,0],[0.08,66.5,74.5,0,0]];
const dendroE = [[1.85,4.5,37.3,0.53,0.98],[0.53,0,11,0.15,0.15],[0.98,19,55,0.42,0.6],[0.42,13,25,0.1,0.1],[0.6,48,62.5,0.2,0.35],[0.2,40,56,0.08,0.08],[0.35,57.8,67,0.1,0.1],[0.15,0.5,3.5,0,0],[0.15,4.5,11.5,0,0],[0.1,12.5,33.5,0,0],[0.1,34.5,37.5,0,0],[0.08,38.5,55.5,0,0],[0.1,56.5,61.5,0,0],[0.1,62.5,76.5,0,0]];

function colorFor(z: number) {
  const p = Math.max(0, Math.min(RAMP.length - 1.001, z / Z_STEP + 5));
  const i = Math.floor(p);
  const f = p - i;
  const rgb = (h: string) => [1, 3, 5].map((k) => parseInt(h.slice(k, k + 2), 16));
  const a = rgb(RAMP[i]);
  const b = rgb(RAMP[i + 1]);
  return `rgb(${a.map((v, k) => Math.round(v + (b[k] - v) * f)).join(",")})`;
}

type PanelProps = {
  labels: string[]; values: number[][]; dendro: number[][]; left: number; top: number; width: number;
  heatLeft: number; heatRight: number; rowsTop: number; rowH: number; classTop: number; classBottom: number;
  tickTop: number; labelX: number; dendroColor: string;
};

function Panel(p: PanelProps) {
  const ref = useRef<HTMLCanvasElement>(null);
  const n = p.labels.length;
  const height = Math.ceil(p.rowsTop + n * p.rowH + 2 - p.top);
  useEffect(() => {
    const colW = (p.heatRight - p.heatLeft) / 12;
    const toRow = (px: number) => (px - p.rowsTop) / p.rowH;
    const classA = toRow(p.classTop);
    const classB = toRow(p.classBottom);
    const tickA = toRow(p.tickTop);
    const sep: any[] = [];
    headerTicks.forEach((c) => { sep.push({ x: c, y: tickA }, { x: c, y: classB }, { x: c, y: null }); });
    const tree: any[] = [];
    p.dendro.forEach(([h, a, b, ha, hb]) => {
      tree.push({ x: -ha, y: a }, { x: -h, y: a }, { x: -h, y: b }, { x: -hb, y: b }, { x: -hb, y: null });
    });
    const cols = classColors.map((_, c) => c + 0.5);
    const border = { borderColor: "rgba(165,165,165,0.85)", borderWidth: 0.6, borderSkipped: false, inflateAmount: 0, grouped: false, categoryPercentage: 1, barPercentage: 1 };
    const datasets: any[] = [
      { type: "line", data: sep, borderColor: "#000", borderWidth: 1.3, pointRadius: 0, spanGaps: false },
      { type: "line", data: tree, borderColor: p.dendroColor, borderWidth: 0.8, pointRadius: 0, spanGaps: false, tension: 0 },
      { type: "bar", data: cols.map((x) => ({ x, y: [classA, classB] })), backgroundColor: classColors, ...border, borderColor: "rgba(150,150,150,0.5)" },
      ...p.values.map((row, r) => ({
        type: "bar",
        data: row.map((_, c) => ({ x: c + 0.5, y: [r, r + 1] })),
        backgroundColor: row.map((v) => colorFor(v * Z_STEP)),
        ...border,
      })),
    ];
    const tickLabels = ["class", ...p.labels];
    const tickValues = [(classA + classB) / 2, ...p.labels.map((_, i) => i + 0.5)];
    const chart = new Chart(ref.current as HTMLCanvasElement, {
      type: "bar",
      data: { datasets },
      options: {
        animation: false, responsive: false, events: [],
        layout: { padding: 0 },
        plugins: { legend: { display: false }, tooltip: { enabled: false } },
        scales: {
          x: { type: "linear", display: false, offset: false, min: (p.left - p.heatLeft) / colW, max: 12, afterBuildTicks: (s: any) => { s.ticks = []; } },
          y: {
            type: "linear", position: "right", reverse: true, min: toRow(p.top), max: toRow(p.top + height),
            grid: { display: false, drawTicks: false }, border: { display: false },
            afterBuildTicks: (s: any) => { s.ticks = tickValues.map((value) => ({ value })); },
            afterFit: (s: any) => { s.width = p.left + p.width - p.heatRight; s.paddingTop = 0; s.paddingBottom = 0; },
            ticks: {
              autoSkip: false, maxRotation: 0, padding: p.labelX - p.heatRight, color: "#1a1a1a",
              font: { family: FONT, size: LABEL_SIZE, weight: "bold" },
              callback: (_: any, i: number) => tickLabels[i],
            },
          },
        },
      } as any,
    });
    return () => chart.destroy();
  }, []);
  return <canvas ref={ref} width={p.width} height={height} style={{ position: "absolute", left: p.left, top: p.top, width: p.width, height }} />;
}

function Colorbar() {
  const ref = useRef<HTMLCanvasElement>(null);
  useEffect(() => {
    const steps = Array.from({ length: 47 }, (_, i) => -2.32 + i * 0.1);
    const chart = new Chart(ref.current as HTMLCanvasElement, {
      type: "bar",
      data: {
        labels: [""],
        datasets: steps.map((v) => ({ data: [[v, v + 0.13]], backgroundColor: colorFor(v + 0.05), grouped: false, categoryPercentage: 1, barPercentage: 1 })) as any,
      },
      options: {
        animation: false, responsive: false, events: [],
        layout: { padding: 0 },
        plugins: { legend: { display: false }, tooltip: { enabled: false } },
        scales: {
          x: { display: false },
          y: {
            position: "right", min: -2.32, max: 2.32,
            grid: { display: false, drawTicks: false }, border: { display: false },
            afterBuildTicks: (s: any) => { s.ticks = colorbarTicks.map((value) => ({ value })); },
            afterFit: (s: any) => { s.width = 14.3; s.paddingTop = 0; s.paddingBottom = 0; },
            ticks: { padding: 2.5, color: "#1a1a1a", font: { family: FONT, size: LABEL_SIZE, weight: "bold" }, autoSkip: false },
          },
        },
      } as any,
    });
    return () => chart.destroy();
  }, []);
  return <canvas ref={ref} width={20} height={84} style={{ position: "absolute", left: 494.3, top: 603, width: 20, height: 84 }} />;
}

function Txt({ x, y, size, children, center }: { x: number; y: number; size: number; children: React.ReactNode; center?: boolean }) {
  return (
    <span style={{ position: "absolute", left: x, top: y, fontFamily: FONT, fontWeight: "bold", fontSize: size, lineHeight: 1, color: "#111", whiteSpace: "nowrap", transform: center ? "translate(-50%,-50%)" : "translateY(-50%)" }}>
      {children}
    </span>
  );
}

function Header({ letter, lx, ly, title, tx, ty, hy, cx, dap }: { letter: string; lx: number; ly: number; title: string; tx: number; ty: number; hy: number; cx: number[]; dap: number }) {
  const names = ["90", "120", "90", "120"];
  return (
    <>
      <Txt x={lx} y={ly} size={17}>{letter}</Txt>
      <Txt x={tx} y={ty} size={title === "Prop roots" || title === "Grains" ? 20 : 17}>{title}</Txt>
      {names.map((t, i) => <Txt key={i} x={cx[i]} y={hy} size={12.5} center>{t}</Txt>)}
      <Txt x={dap} y={hy} size={12.5}>DAP</Txt>
    </>
  );
}

function Swatch({ y, color }: { y: number; color: string }) {
  return <div style={{ position: "absolute", left: 567, top: y, width: 38.4, height: 11.6, boxSizing: "border-box", background: color, border: "2px solid #000" }} />;
}

export default function App() {
  document.body.style.margin = "0";
  return (
    <div style={{ position: "relative", width: 734, height: 1102, overflow: "hidden", background: "#fff" }}>
      <Header letter="A" lx={21} ly={13} title="Leaves" tx={62} ty={13} hy={45.7} cx={[57.5, 103, 147, 192]} dap={214} />
      <Header letter="B" lx={272} ly={12.3} title="Culm" tx={312} ty={8.3} hy={45.3} cx={[304.5, 350.3, 394.5, 439.5]} dap={461.7} />
      <Header letter="C" lx={515.7} ly={12.3} title="Roots" tx={552.3} ty={9} hy={45.3} cx={[547.3, 593, 637, 681.8]} dap={704.3} />
      <Header letter="D" lx={20.7} ly={566.7} title="Prop roots" tx={69} ty={562.3} hy={595.7} cx={[52.8, 100.5, 146, 192.7]} dap={216} />
      <Header letter="E" lx={272} ly={566.7} title="Grains" tx={356.7} ty={558.3} hy={595.3} cx={[300.8, 348.2, 393.8, 440.3]} dap={463.7} />
      <Panel labels={labelsA} values={valuesA} dendro={dendroA} left={0} top={42} width={248} heatLeft={34.7} heatRight={214} rowsTop={59} rowH={6.158} classTop={53.7} classBottom={57.7} tickTop={44.7} labelX={216} dendroColor="#8f8f8f" />
      <Panel labels={labelsB} values={valuesB} dendro={dendroB} left={248} top={42} width={244} heatLeft={283} heatRight={462.3} rowsTop={59} rowH={6.13} classTop={53.5} classBottom={57.8} tickTop={44.7} labelX={464.3} dendroColor="#555555" />
      <Panel labels={labelsC} values={valuesC} dendro={dendroC} left={492} top={42} width={242} heatLeft={524.7} heatRight={704.3} rowsTop={59} rowH={6.15} classTop={53.5} classBottom={57.5} tickTop={44.7} labelX={705.7} dendroColor="#808080" />
      <Panel labels={labelsD} values={valuesD} dendro={dendroD} left={0} top={592} width={248} heatLeft={30.7} heatRight={217.3} rowsTop={610} rowH={6.26} classTop={603.7} classBottom={608.3} tickTop={594.7} labelX={219} dendroColor="#808080" />
      <Panel labels={labelsE} values={valuesE} dendro={dendroE} left={248} top={592} width={244} heatLeft={278} heatRight={464.3} rowsTop={609.7} rowH={6.35} classTop={603.7} classBottom={608} tickTop={594.7} labelX={466} dendroColor="#808080" />
      <Colorbar />
      <Swatch y={583.3} color="#ff0000" />
      <Swatch y={601.3} color="#33cc33" />
      <Txt x={614} y={588} size={15.2}>Ambient</Txt>
      <Txt x={614} y={606.7} size={15.2}>Elevated</Txt>
    </div>
  );
}
